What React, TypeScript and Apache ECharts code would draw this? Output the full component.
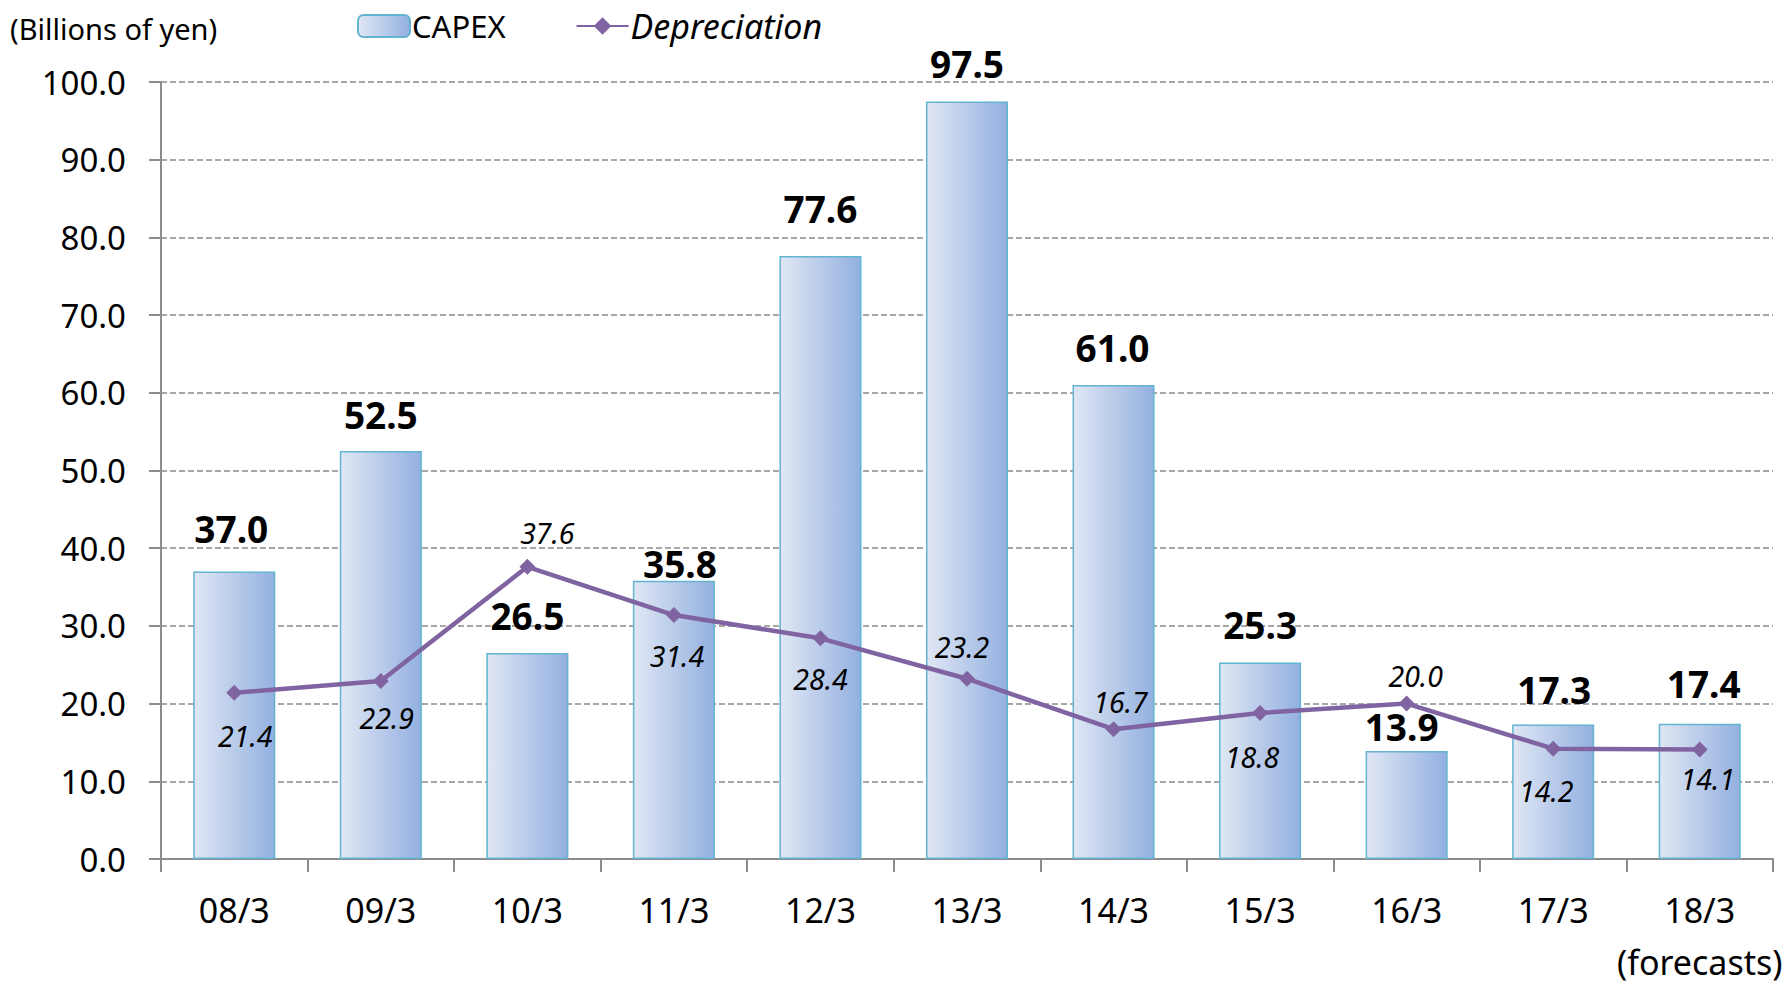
import React, { useEffect, useRef } from "react";
import * as echarts from "echarts";

const categories = ["08/3", "09/3", "10/3", "11/3", "12/3", "13/3", "14/3", "15/3", "16/3", "17/3", "18/3"];
const forecastNote = "(forecasts)";
const capex = [37.0, 52.5, 26.5, 35.8, 77.6, 97.5, 61.0, 25.3, 13.9, 17.3, 17.4];
const depreciation = [21.4, 22.9, 37.6, 31.4, 28.4, 23.2, 16.7, 18.8, 20.0, 14.2, 14.1];
const yTicks = { min: 0, max: 100, interval: 10 };
const unitLabel = "(Billions of yen)";
const seriesNames = ["CAPEX", "Depreciation"];

// label placement tweaks (pixels), kept apart from the data
const capexLabelShift = [[-3, -25], [0, -18], [0, -19], [6, 1], [0, -29], [0, -19], [-1, -19], [0, -19], [-5, -6], [1, -17], [4, -22]];
const deprLabelShift = [[11, 43], [6, 37], [20, -34], [3, 41], [0, 41], [-5, -32], [7, -27], [-8, 44], [9, -28], [-7, 42], [8, 30]];

const FONT = "'Noto Sans', 'Open Sans', sans-serif";

export default function App() {
  const ref = useRef<HTMLDivElement>(null);
  useEffect(() => {
    if (!ref.current) return;
    const chart = echarts.init(ref.current, null, { renderer: "svg" });
    const barGradient = new echarts.graphic.LinearGradient(0, 0, 1, 0, [
      { offset: 0, color: "#e0e7f4" },
      { offset: 1, color: "#93b0e0" },
    ]);
    chart.setOption({
      animation: false,
      backgroundColor: "#ffffff",
      textStyle: { fontFamily: FONT },
      grid: { left: 161, right: 19, top: 82, bottom: 116, containLabel: false },
      legend: {
        left: 352,
        top: 4,
        itemWidth: 52,
        itemHeight: 22,
        itemGap: 70,
        textStyle: { fontFamily: FONT, fontSize: 31, color: "#000", padding: [0, 0, 0, -3] },
        data: [
          { name: seriesNames[0] },
          { name: seriesNames[1], textStyle: { fontStyle: "italic", fontSize: 34 } },
        ],
      },
      graphic: [
        {
          type: "text",
          left: 10,
          top: 14,
          style: { text: unitLabel, fontFamily: FONT, fontSize: 29, fill: "#000" },
        },
      ],
      xAxis: {
        type: "category",
        data: categories,
        boundaryGap: true,
        axisLine: { lineStyle: { color: "#8c8c8c", width: 2 } },
        axisTick: { show: true, length: 13, interval: 0, lineStyle: { color: "#8c8c8c", width: 2 } },
        axisLabel: {
          interval: 0,
          margin: 25,
          fontSize: 34,
          lineHeight: 52,
          color: "#000",
          fontFamily: FONT,
          formatter: (v: string, i: number) => (i === categories.length - 1 ? v + "\n" + forecastNote : v),
        },
      },
      yAxis: {
        type: "value",
        min: yTicks.min,
        max: yTicks.max,
        interval: yTicks.interval,
        axisLine: { show: true, lineStyle: { color: "#8c8c8c", width: 2 } },
        axisTick: { show: true, length: 12, lineStyle: { color: "#8c8c8c", width: 2 } },
        axisLabel: {
          margin: 35,
          fontSize: 33,
          color: "#000",
          fontFamily: FONT,
          formatter: (v: number) => v.toFixed(1),
        },
        splitLine: { show: true, lineStyle: { color: "#8a8a8a", width: 1.5, type: [6, 3] } },
      },
      series: [
        {
          name: seriesNames[0],
          type: "bar",
          barWidth: "56%",
          itemStyle: { color: barGradient, borderColor: "#62b4d0", borderWidth: 1.5 },
          data: capex.map((v, i) => ({
            value: v,
            label: { offset: capexLabelShift[i] },
          })),
          label: {
            show: true,
            position: "top",
            distance: 0,
            fontSize: 37,
            lineHeight: 37,
            fontWeight: "bold",
            color: "#000",
            fontFamily: FONT,
            formatter: (p: any) => Number(p.value).toFixed(1),
          },
          z: 2,
        },
        {
          name: seriesNames[1],
          type: "line",
          symbol: "diamond",
          symbolSize: 16,
          lineStyle: { color: "#8064a2", width: 4.5 },
          itemStyle: { color: "#8064a2" },
          data: depreciation.map((v, i) => ({
            value: v,
            label: { offset: deprLabelShift[i] },
          })),
          label: {
            show: true,
            position: "inside",
            fontSize: 28.5,
            fontStyle: "italic",
            color: "#000",
            fontFamily: FONT,
            formatter: (p: any) => Number(p.value).toFixed(1),
          },
          z: 3,
        },
      ],
    });
    return () => chart.dispose();
  }, []);
  return <div ref={ref} style={{ position: "fixed", left: 0, top: 0, width: 1792, height: 988 }} />;
}
